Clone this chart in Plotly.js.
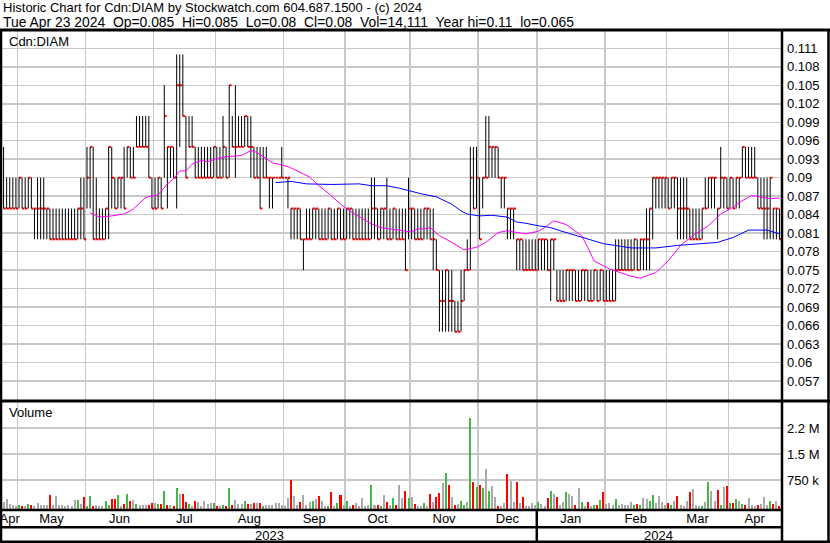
<!DOCTYPE html>
<html><head><meta charset="utf-8">
<script src="https://cdn.plot.ly/plotly-3.0.1.min.js"></script>
<style>html,body{margin:0;padding:0;background:#fff;}#chart{width:830px;height:543px;}</style>
</head><body><div id="chart"></div>
<script>
const holidays = ['2023-05-22','2023-07-03','2023-08-07','2023-09-04','2023-10-09','2023-12-25','2023-12-26','2024-01-01','2024-02-19','2024-03-29'];
const firstDay = '2023-04-24', lastDay = '2024-04-23';

const high = [
.095,.09,.09,.09,.09,.09,.09,.09,.09,.09,
.085,.09,.09,.09,.085,.085,.085,.085,.085,.085,
.085,.085,.085,.085,.085,.09,.09,.095,.095,.095,
.09,.085,.085,.085,.095,.095,.09,.09,.09,.095,
.095,.095,.095,.1,.1,.1,.1,.1,.09,.09,
.09,.09,.105,.095,.095,.095,.11,.11,.11,.1,
.1,.1,.095,.095,.095,.095,.095,.095,.095,.095,
.095,.1,.095,.105,.1,.105,.1,.1,.1,.1,
.1,.095,.095,.095,.095,.095,.09,.09,.09,.09,
.095,.09,.09,.085,.085,.085,.085,.08,.085,.085,
.085,.085,.085,.085,.085,.085,.085,.085,.085,.085,
.085,.085,.085,.085,.085,.085,.085,.085,.085,.09,
.09,.085,.085,.085,.09,.085,.085,.085,.085,.085,
.085,.09,.085,.085,.085,.085,.085,.085,.085,.085,
.08,.075,.075,.075,.075,.075,.07,.07,.075,.075,
.08,.095,.095,.095,.09,.09,.1,.1,.095,.095,
.095,.09,.09,.085,.085,.085,.08,.08,.08,.08,
.08,.08,.08,.08,.08,.08,.08,.08,.08,.075,
.075,.075,.075,.075,.075,.075,.075,.075,.075,.075,
.075,.075,.075,.075,.075,.075,.075,.075,.08,.08,
.08,.08,.08,.08,.08,.08,.08,.08,.085,.085,
.09,.09,.09,.09,.09,.09,.09,.09,.09,.09,
.09,.09,.085,.085,.085,.085,.085,.09,.09,.09,
.09,.085,.095,.09,.09,.09,.09,.09,.09,.095,
.095,.095,.095,.095,.09,.09,.09,.09,.09,.085,
.085,.085];
const low = [
.085,.085,.085,.085,.085,.085,.085,.085,.085,.085,
.08,.08,.08,.08,.08,.08,.08,.08,.08,.08,
.08,.08,.08,.08,.08,.08,.08,.085,.085,.08,
.08,.08,.08,.08,.08,.085,.085,.085,.085,.085,
.09,.09,.09,.095,.095,.095,.095,.09,.085,.085,
.085,.085,.09,.085,.09,.09,.085,.095,.1,.09,
.095,.095,.09,.09,.09,.09,.09,.09,.09,.09,
.09,.09,.09,.09,.095,.09,.095,.095,.095,.095,
.09,.09,.09,.085,.09,.09,.085,.085,.09,.09,
.09,.09,.085,.08,.08,.08,.08,.075,.08,.08,
.08,.08,.08,.08,.08,.08,.08,.08,.08,.08,
.08,.08,.08,.08,.08,.08,.08,.08,.08,.08,
.08,.08,.08,.08,.08,.08,.08,.08,.08,.08,
.075,.08,.08,.08,.08,.08,.08,.08,.08,.075,
.075,.065,.065,.065,.065,.065,.065,.065,.065,.07,
.075,.075,.085,.085,.08,.085,.09,.09,.09,.09,
.09,.085,.085,.08,.08,.08,.075,.075,.075,.075,
.075,.075,.075,.075,.075,.075,.075,.07,.075,.07,
.07,.07,.07,.07,.07,.07,.07,.07,.07,.07,
.07,.07,.07,.07,.07,.07,.07,.07,.07,.075,
.075,.075,.075,.075,.075,.075,.075,.075,.075,.075,
.08,.085,.085,.085,.085,.085,.085,.085,.08,.08,
.08,.08,.08,.08,.08,.08,.08,.085,.085,.085,
.085,.08,.085,.085,.085,.085,.085,.085,.085,.09,
.09,.09,.09,.09,.085,.085,.08,.08,.08,.08,
.08,.08];
const close = [
.085,.085,.085,.085,.085,.09,.085,.085,.09,.085,
.085,.085,.085,.085,.085,.08,.08,.08,.08,.08,
.08,.08,.08,.08,.085,.085,.08,.09,.095,.08,
.08,.08,.08,.085,.095,.09,.085,.09,.09,.085,
.095,.09,.09,.095,.095,.095,.095,.09,.085,.085,
.09,.085,.1,.095,.095,.09,.105,.105,.1,.09,
.095,.095,.09,.09,.09,.09,.09,.09,.095,.09,
.09,.095,.09,.105,.095,.095,.095,.095,.1,.095,
.095,.09,.09,.085,.09,.09,.09,.09,.09,.09,
.09,.09,.09,.085,.085,.085,.08,.08,.08,.08,
.085,.085,.08,.08,.08,.085,.08,.08,.085,.08,
.08,.085,.085,.08,.08,.08,.08,.08,.08,.085,
.085,.08,.085,.085,.08,.08,.085,.08,.08,.08,
.075,.085,.085,.08,.08,.08,.085,.085,.08,.08,
.075,.07,.07,.075,.07,.07,.065,.065,.07,.075,
.075,.09,.085,.09,.08,.09,.09,.095,.095,.095,
.09,.09,.09,.085,.085,.085,.08,.08,.075,.075,
.075,.075,.075,.08,.08,.08,.075,.08,.08,.07,
.07,.07,.075,.075,.075,.07,.07,.075,.075,.07,
.07,.075,.07,.075,.07,.07,.07,.07,.075,.075,
.075,.075,.075,.075,.08,.075,.08,.08,.08,.085,
.09,.09,.09,.09,.09,.085,.09,.09,.085,.085,
.085,.085,.08,.08,.08,.08,.085,.085,.09,.09,
.09,.085,.09,.09,.085,.09,.085,.09,.09,.095,
.09,.09,.09,.09,.085,.085,.085,.085,.09,.085,
.085,.08];
const volume = [
124000,193000,58000,29000,10000,15000,10000,10000,58000,15000,
10000,87000,15000,15000,29000,317000,15000,288000,29000,15000,
10000,15000,10000,173000,173000,58000,250000,10000,288000,5000,
29000,10000,10000,144000,29000,193000,212000,317000,5000,58000,
346000,154000,183000,68000,29000,15000,15000,15000,87000,87000,
58000,58000,433000,29000,29000,10000,519000,346000,346000,124000,
58000,10000,154000,124000,10000,154000,58000,87000,87000,10000,
5000,29000,10000,519000,15000,173000,72000,72000,154000,58000,
58000,87000,87000,87000,10000,29000,15000,15000,87000,87000,
15000,10000,221000,750000,289000,15000,116000,317000,29000,116000,
144000,212000,289000,144000,10000,5000,404000,5000,87000,317000,
29000,154000,5000,15000,87000,10000,240000,5000,29000,606000,
15000,15000,5000,317000,116000,15000,240000,15000,606000,240000,
442000,240000,269000,58000,5000,10000,87000,10000,346000,116000,
269000,385000,673000,962000,606000,269000,15000,58000,154000,15000,
116000,2550000,702000,558000,606000,529000,1068000,442000,577000,269000,
10000,5000,87000,923000,731000,116000,702000,87000,269000,10000,
10000,87000,29000,116000,58000,10000,240000,442000,346000,250000,
15000,116000,404000,346000,289000,29000,529000,116000,5000,116000,
10000,15000,29000,173000,404000,58000,87000,15000,212000,15000,
58000,15000,15000,116000,15000,58000,29000,240000,212000,154000,
317000,87000,289000,116000,15000,87000,15000,154000,289000,29000,
5000,154000,414000,500000,15000,5000,10000,116000,702000,442000,
154000,471000,15000,558000,577000,87000,87000,212000,154000,58000,
29000,240000,15000,5000,15000,58000,269000,15000,154000,58000,
154000,14111];

// moving averages (trading-day index, value)
const maShortDay = [28,31,35,39,42,46,50,53,55,57,59,61,64,66,69,72,77,80,82,85,87,89,92,95,99,102,106,109,112,115,119,122,125,128,132,134,136,138,141,145,148,149,153,156,160,163,166,169,173,175,178,182,187,189,191,196,203,206,211,215,219,223,228,232,236,238,242,245,248,251];
const maShortVal = [.0843,.0836,.0838,.0841,.0849,.0868,.0872,.0890,.0898,.0911,.0911,.0922,.0928,.0926,.0931,.0934,.0936,.0944,.0941,.0930,.0924,.0922,.0918,.0911,.0901,.0887,.0871,.0857,.0846,.0837,.0825,.0819,.0817,.0815,.0812,.0817,.0817,.0819,.0806,.0795,.0786,.0783,.0787,.0795,.0811,.0814,.0811,.0809,.0813,.0819,.0830,.0824,.0806,.0787,.0765,.0752,.0740,.0737,.0746,.0765,.0790,.0806,.0822,.0841,.0852,.0860,.0871,.0868,.0866,.0867];
const maLongDay = [88,93,98,106,115,119,124,128,135,140,145,148,150,154,158,163,166,169,173,177,180,187,194,203,211,218,224,231,236,241,247,250,251];
const maLongVal = [.0892,.0894,.0890,.0889,.0890,.0887,.0887,.0883,.0874,.0869,.0857,.0846,.0841,.0838,.0839,.0836,.0828,.0826,.0822,.0819,.0814,.0803,.0793,.0786,.0786,.0790,.0792,.0795,.0803,.0815,.0815,.0811,.0809];

const priceTicks = [0.057,0.06,0.063,0.066,0.069,0.072,0.075,0.078,0.081,0.084,0.087,0.09,0.093,0.096,0.099,0.102,0.105,0.108,0.111];
const volTicks = [750000,1500000,2250000];
const volTickText = ['750 k','1.5 M','2.2 M'];
const monthNames = ['Jan','Feb','Mar','Apr','May','Jun','Jul','Aug','Sep','Oct','Nov','Dec'];
const headerLine1 = 'Historic Chart for Cdn:DIAM by Stockwatch.com 604.687.1500 - (c) 2024';
const headerLine2 = 'Tue Apr 23 2024&nbsp;&nbsp;Op=0.085&nbsp;&nbsp;Hi=0.085&nbsp;&nbsp;Lo=0.08&nbsp;&nbsp;Cl=0.08&nbsp;&nbsp;Vol=14,111&nbsp;&nbsp;Year hi=0.11&nbsp;&nbsp;lo=0.065';
const symbolLabel = 'Cdn:DIAM';
const volumeLabel = 'Volume';

// ---- build ----
const W = 830, H = 543;
const FONT = '"Liberation Sans", Arial, sans-serif';
const GRID = '#c8c8c8';
const px = x => x / W, py = y => 1 - y / H;

function tradingDates() {
  const out = [];
  let d = new Date(firstDay + 'T00:00:00Z');
  const end = new Date(lastDay + 'T00:00:00Z');
  while (d <= end) {
    const s = d.toISOString().slice(0, 10), dow = d.getUTCDay();
    if (dow !== 0 && dow !== 6 && !holidays.includes(s)) out.push(s);
    d = new Date(d.getTime() + 86400000);
  }
  return out;
}
const dates = tradingDates();
const N = close.length;
const idx = close.map((_, i) => i);

// month / year groups
const monthMid = [], monthText = [], monthBounds = [];
const yearGroups = [];
let gStart = 0;
for (let i = 1; i <= N; i++) {
  const prev = dates[i - 1] || '', cur = dates[i] || '';
  if (i === N || cur.slice(0, 7) !== prev.slice(0, 7)) {
    monthMid.push((gStart + i - 1) / 2);
    monthText.push(monthNames[parseInt(prev.slice(5, 7), 10) - 1]);
    if (i < N) monthBounds.push(i - 0.5);
    gStart = i;
  }
}
let yStart = 0;
for (let i = 1; i <= N; i++) {
  const prev = dates[i - 1] || '', cur = dates[i] || '';
  if (i === N || cur.slice(0, 4) !== prev.slice(0, 4)) {
    yearGroups.push({ mid: (yStart + i - 1) / 2, text: prev.slice(0, 4), end: i - 0.5 });
    yStart = i;
  }
}

// high-low bars and close ticks
const hlX = [], hlY = [], clX = [], clY = [];
idx.forEach(i => {
  hlX.push(i, i, null); hlY.push(low[i], high[i], null);
  clX.push(i, i + 0.75, null); clY.push(close[i], close[i], null);
});

const volFloor = -86538, volTop = 3000000;
const volColors = idx.map(i => {
  if (i === 0) return '#aaaaaa';
  if (close[i] > close[i - 1] + 1e-9) return '#44b844';
  if (close[i] < close[i - 1] - 1e-9) return '#ff0000';
  return '#aaaaaa';
});

const traces = [
  { type: 'scatter', mode: 'lines', x: clX, y: clY, xaxis: 'x', yaxis: 'y',
    line: { color: '#ff0000', width: 2 }, hoverinfo: 'skip' },
  { type: 'scatter', mode: 'lines', x: hlX, y: hlY, xaxis: 'x', yaxis: 'y',
    line: { color: '#000000', width: 1 }, hoverinfo: 'skip' },
  { type: 'scatter', mode: 'lines', x: maShortDay, y: maShortVal, xaxis: 'x', yaxis: 'y',
    line: { color: '#ff00ff', width: 1 } },
  { type: 'scatter', mode: 'lines', x: maLongDay, y: maLongVal, xaxis: 'x', yaxis: 'y',
    line: { color: '#0000ff', width: 1 } },
  { type: 'bar', x: idx, y: volume.map(v => v - volFloor), base: volFloor, xaxis: 'x', yaxis: 'y2',
    width: 0.65, marker: { color: volColors, line: { width: 0 } } }
];

const blk = (x0, y0, x1, y1, w) => ({ type: 'line', xref: 'paper', yref: 'paper',
  x0: px(x0), y0: py(y0), x1: px(x1), y1: py(y1), line: { color: '#000', width: w } });

const shapes = [
  blk(0, 30, 830, 30, 3),
  blk(1, 30, 1, 543, 2.5),
  blk(828.5, 30, 828.5, 543, 2.5),
  blk(0, 541.8, 830, 541.8, 2.5),
  blk(0, 401, 830, 401, 3),
  blk(0, 510, 782, 510, 2.5),
  blk(0, 527.3, 782, 527.3, 2.5),
  blk(782, 30, 782, 543, 2.5)
];
yearGroups.slice(0, -1).forEach(g => shapes.push({ type: 'line', xref: 'x', yref: 'paper',
  x0: g.end, x1: g.end, y0: 0, y1: py(510), line: { color: '#000', width: 2.5 } }));

const ann = (text, x, y, size) => ({ text, x: px(x), y: py(y), xanchor: 'left', yanchor: 'middle',
  xref: 'paper', yref: 'paper', showarrow: false, font: { family: FONT, size, color: '#000' } });
const annotations = [
  ann(headerLine1, 1, 8, 13),
  ann(headerLine2, 1, 22.5, 13.9),
  ann(symbolLabel, 7, 41, 13),
  ann(volumeLabel, 7, 413, 13)
];
yearGroups.forEach(g => annotations.push({ text: g.text, xref: 'x', yref: 'paper', x: g.mid, y: py(535),
  xanchor: 'center', yanchor: 'middle', showarrow: false, font: { family: FONT, size: 13, color: '#000' } }));

const layout = {
  width: W, height: H, margin: { l: 0, r: 0, t: 0, b: 0 },
  paper_bgcolor: '#fff', plot_bgcolor: '#fff', showlegend: false,
  font: { family: FONT, size: 13, color: '#000' },
  xaxis: { domain: [px(2), px(781)], range: [-0.5, N - 0.5], anchor: 'y2',
    showgrid: false, zeroline: false, showline: false, ticks: '', ticklabeloverflow: 'allow',
    tickmode: 'array', tickvals: monthMid, ticktext: monthText, tickfont: { size: 13 },
    minor: { tickmode: 'array', tickvals: monthBounds, showgrid: true, gridcolor: GRID, gridwidth: 1.5, ticks: '' } },
  yaxis: { domain: [py(400), py(31)], range: [0.05392, 0.11381], anchor: 'x', side: 'right',
    tickmode: 'array', tickvals: priceTicks, ticktext: priceTicks.map(v => String(parseFloat(v.toFixed(3)))),
    showgrid: true, gridcolor: GRID, gridwidth: 1.5, zeroline: false, showline: false, ticks: '',
    ticklabelstandoff: 5, tickfont: { size: 13 } },
  yaxis2: { domain: [py(509), py(402)], range: [volFloor, volTop], anchor: 'x', side: 'right',
    tickmode: 'array', tickvals: volTicks, ticktext: volTickText,
    showgrid: true, gridcolor: GRID, gridwidth: 1.5, zeroline: false, showline: false, ticks: '',
    ticklabelstandoff: 5, tickfont: { size: 13 } },
  shapes: shapes, annotations: annotations, bargap: 0
};

Plotly.newPlot('chart', traces, layout, { displayModeBar: false, staticPlot: true });
</script></body></html>
